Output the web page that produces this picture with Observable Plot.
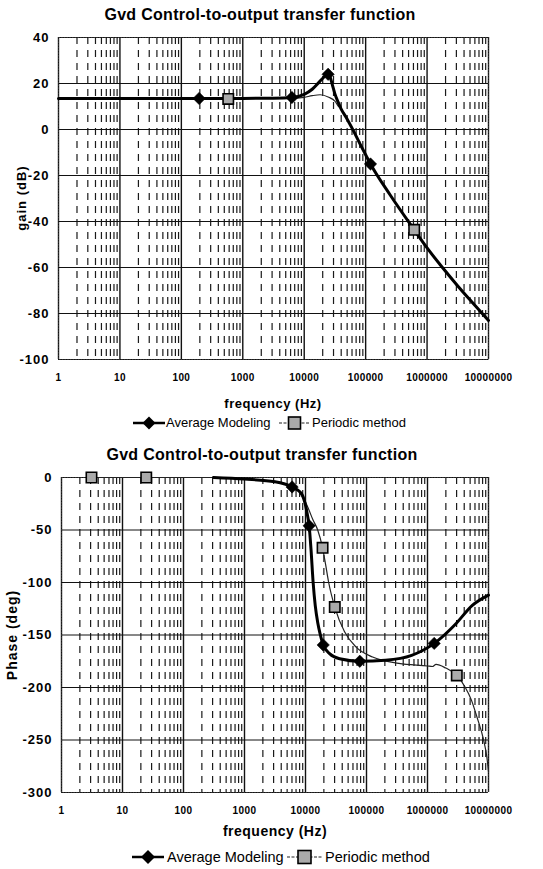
<!DOCTYPE html>
<html>
<head>
<meta charset="utf-8">
<script src="https://cdn.jsdelivr.net/npm/d3@7"></script>
<script src="https://cdn.jsdelivr.net/npm/@observablehq/plot@0.6"></script>
<style>
  body { margin: 0; background: #fff; }
  #wrap { position: relative; width: 543px; height: 869px; background: #fff; font-family: "Liberation Sans", Arial, sans-serif; color: #000; overflow: hidden; }
  .abs { position: absolute; white-space: nowrap; }
  .chart { z-index: 1; }
  .txt { z-index: 2; }
  .title { font-weight: bold; font-size: 16px; line-height: 18px; text-align: center; letter-spacing: 0.3px; }
  .xlab { font-weight: bold; line-height: 16px; text-align: center; letter-spacing: 0.5px; }
  .ylab { font-weight: bold; letter-spacing: 1px; transform: translate(-50%, -50%) rotate(-90deg); line-height: 16px; }
  .leg { line-height: 18px; }
  svg [aria-label="y-axis tick label"] { letter-spacing: 1px; }
  svg [aria-label="x-axis tick label"] { letter-spacing: 0.4px; }
</style>
</head>
<body>
<div id="wrap">
  <div id="c1" class="abs chart" style="left:0;top:0;"></div>
  <div class="abs title txt" style="left:0;width:520px;top:6px;">Gvd Control-to-output transfer function</div>
  <div class="abs ylab txt" style="left:22px;top:198px;font-size:13px;">gain (dB)</div>
  <div class="abs xlab txt" style="left:0;width:546px;top:396px;font-size:13px;">frequency (Hz)</div>
  <div id="leg1" class="abs txt" style="left:0;top:414px;width:543px;height:18px;"></div>

  <div id="c2" class="abs chart" style="left:0;top:440px;"></div>
  <div class="abs title txt" style="left:0;width:524px;top:446px;">Gvd Control-to-output transfer function</div>
  <div class="abs ylab txt" style="left:12px;top:635px;font-size:14px;">Phase (deg)</div>
  <div class="abs xlab txt" style="left:0;width:550px;top:823px;font-size:14px;">frequency (Hz)</div>
  <div id="leg2" class="abs txt" style="left:0;top:848px;width:543px;height:18px;"></div>
</div>
<script>
// ---------- data ----------
const seriesNames = ["Average Modeling", "Periodic method"];
const decadeTicks = [1, 10, 100, 1000, 10000, 100000, 1000000, 10000000];
const gainTicks = [40, 20, 0, -20, -40, -60, -80, -100];
const phaseTicks = [0, -50, -100, -150, -200, -250, -300];

// Gain (dB) - Average Modeling
const gainAvgFreq = [1, 10, 100, 1000, 3160, 6300, 10000, 13500, 17800, 21900, 24500, 26900, 28800, 31600, 35500, 39800, 50100, 63100, 79400, 100000, 120000, 251000, 617000, 1000000, 1780000, 3160000, 5370000, 10000000];
const gainAvgDb   = [13.5, 13.5, 13.5, 13.5, 13.6, 13.9, 15.3, 17.5, 20.8, 23.2, 24, 22.2, 19.3, 15.5, 12, 9, 4.5, -0.5, -5.8, -11, -15, -28.5, -43.6, -51.5, -60, -68, -75, -83];
// Gain (dB) - Periodic method
const gainPerFreq = [1, 10, 100, 1000, 3160, 6300, 10000, 13500, 18200, 25100, 31600, 35500, 39800, 50100, 63100, 79400, 100000, 120000, 251000, 617000, 1000000, 1780000, 3160000, 5370000, 10000000];
const gainPerDb   = [13.5, 13.5, 13.5, 13.5, 13.5, 13.5, 14, 14.7, 15.1, 14, 12.3, 10.3, 9, 4.5, -0.5, -5.8, -11, -15, -28.5, -43.6, -51.5, -60, -68, -75, -83];
// Gain markers
const gainAvgMkFreq = [195, 6300, 24500, 120000];
const gainAvgMkDb   = [13.5, 13.9, 24, -15];
const gainPerMkFreq = [580, 617000];
const gainPerMkDb   = [13.3, -43.6];

// Phase (deg) - Average Modeling
const phAvgFreq = [310, 1000, 3160, 6030, 8510, 9770, 10700, 11480, 12300, 13340, 14450, 15850, 17380, 19500, 25120, 36310, 77620, 204200, 549500, 1288000, 2951000, 5370000, 10000000];
const phAvgDeg  = [0, -1.5, -4, -9, -15, -24, -35, -46, -68, -100, -122, -138, -149, -159.5, -168, -172.6, -175, -174, -169.4, -158, -139, -122, -112];
// Phase (deg) - Periodic method
const phPerFreq = [3.1, 24.5, 310, 1000, 3160, 6030, 9550, 11220, 13180, 15850, 19050, 21380, 23990, 30200, 43650, 67610, 125900, 338800, 1000000, 1202000, 1380000, 1995000, 3020000, 4169000, 5248000, 6457000, 8318000, 9333000, 10000000];
const phPerDeg  = [0, 0, 0, -1.5, -4, -8.5, -21, -30, -40, -50, -67, -83, -100, -123.4, -147, -161.5, -171, -177, -179.5, -180, -178, -181.5, -188.5, -200, -212, -228, -250, -265, -280];
// Phase markers
const phAvgMkFreq = [6030, 11480, 19500, 77620, 1288000];
const phAvgMkDeg  = [-9, -46, -159.5, -175, -158];
const phPerMkFreq = [3.1, 24.5, 19050, 30200, 3020000];
const phPerMkDeg  = [0, 0, -67, -123.4, -188.5];

// ---------- helpers ----------
const rows = (xs, ys) => xs.map((x, i) => ({x, y: ys[i]}));
const minorTicks = [];
for (let d = 1; d < 1e7; d *= 10) for (let k = 2; k <= 9; k++) minorTicks.push(d * k);

const diamond = {draw(ctx, size) { const r = Math.sqrt(size / Math.PI); ctx.moveTo(0, -r); ctx.lineTo(r, 0); ctx.lineTo(0, r); ctx.lineTo(-r, 0); ctx.closePath(); }};
const square = {draw(ctx, size) { const r = Math.sqrt(size / Math.PI); ctx.rect(-r, -r, 2 * r, 2 * r); }};

function chart({height, mt, mb, ml, mr, yDomain, yTicks, avgLine, perLine, avgMk, perMk, ytPad}) {
  return Plot.plot({
    width: 543, height,
    marginTop: mt, marginBottom: mb, marginLeft: ml, marginRight: mr,
    style: {fontFamily: "'Liberation Sans', Arial, sans-serif", background: "transparent", color: "#000"},
    x: {type: "log", domain: [1, 1e7], axis: null},
    y: {domain: yDomain, axis: null},
    marks: [
      Plot.ruleX(minorTicks, {stroke: "#1a1a1a", strokeWidth: 1.2, strokeDasharray: "7,6"}),
      Plot.ruleY(yTicks, {stroke: "#111", strokeWidth: 1}),
      Plot.ruleX(decadeTicks, {stroke: "#111", strokeWidth: 1.4}),
      Plot.frame({stroke: "#333", strokeWidth: 1, strokeDasharray: "1.5,1.2"}),
      Plot.axisY({ticks: yTicks, label: null, tickSize: 0, tickPadding: ytPad, tickFormat: d => String(d), fontSize: 13, fontWeight: "bold"}),
      Plot.axisX({ticks: decadeTicks, label: null, tickSize: 0, tickPadding: 14, tickFormat: d => String(d), fontSize: 10, fontWeight: "bold"}),
      Plot.line(perLine, {x: "x", y: "y", stroke: "#222", strokeWidth: 1.2, curve: "monotone-x"}),
      Plot.line(avgLine, {x: "x", y: "y", stroke: "#000", strokeWidth: 3, curve: "monotone-x"}),
      Plot.dot(avgMk, {x: "x", y: "y", symbol: diamond, r: 6.2, fill: "#000", stroke: "#000", strokeWidth: 0.5}),
      Plot.dot(perMk, {x: "x", y: "y", symbol: square, r: 5.2, fill: "#aaa", stroke: "#000", strokeWidth: 1.6})
    ]
  });
}

document.getElementById("c1").appendChild(chart({
  height: 395, mt: 37, mb: 36, ml: 58, mr: 55,
  yDomain: [-100, 40], yTicks: gainTicks, ytPad: 9,
  avgLine: rows(gainAvgFreq, gainAvgDb), perLine: rows(gainPerFreq, gainPerDb),
  avgMk: rows(gainAvgMkFreq, gainAvgMkDb), perMk: rows(gainPerMkFreq, gainPerMkDb)
}));
document.getElementById("c2").appendChild(chart({
  height: 380, mt: 37, mb: 28, ml: 61, mr: 55,
  yDomain: [-300, 0], yTicks: phaseTicks, ytPad: 9,
  avgLine: rows(phAvgFreq, phAvgDeg), perLine: rows(phPerFreq, phPerDeg),
  avgMk: rows(phAvgMkFreq, phAvgMkDeg), perMk: rows(phPerMkFreq, phPerMkDeg)
}));

// ---------- legends ----------
function legend(el, cfg) {
  const ns = "http://www.w3.org/2000/svg";
  const add = (x, w, kind) => {
    const s = document.createElementNS(ns, "svg");
    s.setAttribute("width", w); s.setAttribute("height", 18);
    s.style.position = "absolute"; s.style.left = x + "px"; s.style.top = "0px";
    const c = w / 2;
    if (kind === "avg") {
      s.innerHTML = `<line x1="0" x2="${w}" y1="9" y2="9" stroke="#000" stroke-width="2.5"/>` +
        `<path d="M${c},${9 - cfg.dr}L${c + cfg.dr},9L${c},${9 + cfg.dr}L${c - cfg.dr},9Z" fill="#000"/>`;
    } else {
      s.innerHTML = `<line x1="0" x2="${w}" y1="9" y2="9" stroke="#222" stroke-width="1.2" stroke-dasharray="3,1.5"/>` +
        `<rect x="${c - cfg.sr}" y="${9 - cfg.sr}" width="${2 * cfg.sr}" height="${2 * cfg.sr}" fill="#aaa" stroke="#000" stroke-width="1.6"/>`;
    }
    el.appendChild(s);
  };
  const txt = (x, t) => {
    const d = document.createElement("div");
    d.className = "abs leg"; d.style.left = x + "px"; d.style.top = "0px"; d.style.fontSize = cfg.fs + "px";
    d.textContent = t; el.appendChild(d);
  };
  add(cfg.s1, cfg.w1, "avg"); txt(cfg.t1, seriesNames[0]);
  add(cfg.s2, cfg.w2, "per"); txt(cfg.t2, seriesNames[1]);
}
legend(document.getElementById("leg1"), {s1: 133, w1: 32, t1: 166, s2: 279, w2: 31, t2: 312, fs: 13, dr: 6.5, sr: 6});
legend(document.getElementById("leg2"), {s1: 132, w1: 32, t1: 167, s2: 287, w2: 35, t2: 325, fs: 14.5, dr: 7, sr: 6.5});
</script>
</body>
</html>
